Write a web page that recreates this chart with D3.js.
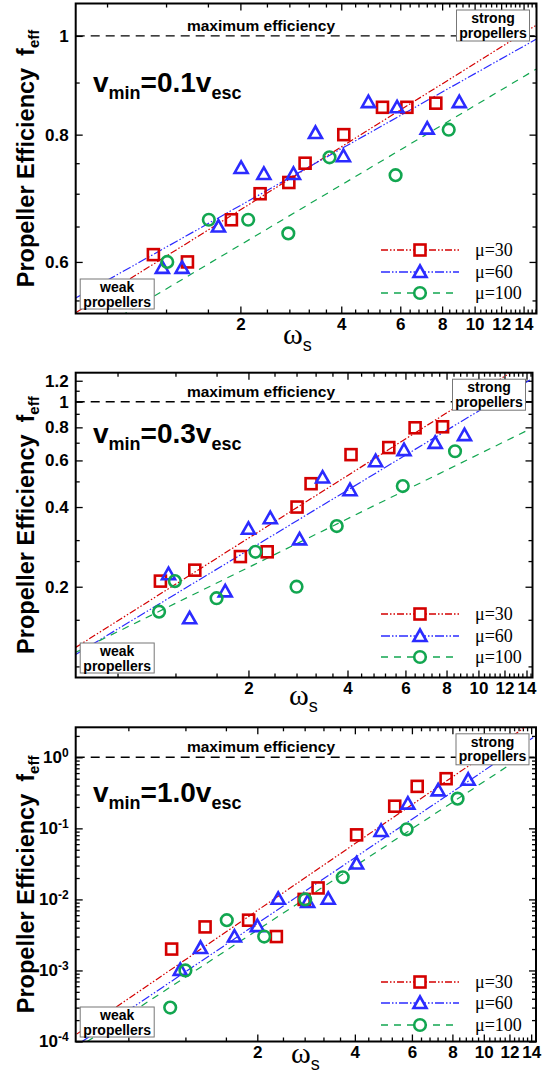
<!DOCTYPE html>
<head>
<meta charset="utf-8">
<title>Propeller efficiency</title>
<script src="https://d3js.org/d3.v7.min.js"></script>
<style>
  body { margin: 0; background: #fff; }
  svg { display: block; }
  .tick text { font-family: "Liberation Sans", Arial, sans-serif; font-weight: bold; font-size: 17px; fill: #000; }
  .tick line { stroke: #000; stroke-width: 1.3; }
  .frame { fill: none; stroke: #000; stroke-width: 2; }
  .note { font-family: "Liberation Sans", Arial, sans-serif; font-weight: bold; }
  .leg { font-family: "Liberation Serif", "Times New Roman", serif; font-size: 18px; }
</style>
</head>
<body>
<div id="container"></div>
<script>
//------------------------------DATA------------------------------//
var seriesLabels = ["\u03bc=30", "\u03bc=60", "\u03bc=100"];
var xTickValues = [2, 4, 6, 8, 10, 12, 14];

// panel 1 : vmin = 0.1 vesc
var p1_title = ["0.1"];
var p1_xDomain = [0.645, 15.3];
var p1_yDomain = [0.534, 1.076];
var p1_yTicks = [0.6, 0.8, 1];
var p1_yMinor = [0.55, 0.65, 0.7, 0.75, 0.9];
var p1_w30 = [1.10, 1.39, 1.88, 2.29, 2.79, 3.12, 4.07, 5.31, 6.28, 7.66];
var p1_f30 = [0.610, 0.600, 0.660, 0.700, 0.718, 0.750, 0.800, 0.851, 0.851, 0.859];
var p1_w60 = [1.17, 1.34, 1.72, 2.01, 2.35, 2.88, 3.35, 4.06, 4.82, 5.87, 7.22, 9.0];
var p1_f60 = [0.592, 0.592, 0.650, 0.742, 0.732, 0.732, 0.803, 0.762, 0.861, 0.851, 0.811, 0.861];
var p1_w100 = [1.21, 1.61, 2.11, 2.78, 3.69, 5.81, 8.37];
var p1_f100 = [0.600, 0.660, 0.660, 0.640, 0.760, 0.730, 0.809];
// fitted power laws, two end points each [[w, f], [w, f]]
var p1_fit30 = [[0.645, 0.535], [15.3, 1.025]];
var p1_fit60 = [[0.645, 0.553], [15.3, 0.993]];
var p1_fit100 = [[0.879, 0.531], [15.3, 0.928]];

// panel 2 : vmin = 0.3 vesc
var p2_title = ["0.3"];
var p2_xDomain = [0.597, 14.6];
var p2_yDomain = [0.0908, 1.287];
var p2_yTicks = [0.2, 0.4, 0.6, 0.8, 1, 1.2];
var p2_yMinor = [0.1, 0.15, 0.25, 0.3, 0.5, 0.7, 0.9, 1.1];
var p2_w30 = [1.08, 1.374, 1.89, 2.28, 2.81, 3.10, 4.10, 5.34, 6.42, 7.78];
var p2_f30 = [0.210, 0.231, 0.260, 0.271, 0.400, 0.490, 0.631, 0.671, 0.797, 0.804];
var p2_w60 = [1.143, 1.325, 1.70, 2.0, 2.33, 2.86, 3.36, 4.07, 4.87, 5.94, 7.39, 9.07];
var p2_f60 = [0.223, 0.152, 0.192, 0.331, 0.363, 0.302, 0.517, 0.463, 0.596, 0.656, 0.699, 0.748];
var p2_w100 = [1.07, 1.195, 1.60, 2.10, 2.80, 3.71, 5.89, 8.49];
var p2_f100 = [0.161, 0.210, 0.181, 0.271, 0.200, 0.339, 0.480, 0.650];
var p2_fit30 = [[0.597, 0.118], [12.5, 1.287]];
var p2_fit60 = [[0.597, 0.111], [14.34, 1.208]];
var p2_fit100 = [[0.597, 0.113], [14.34, 0.788]];

// panel 3 : vmin = 1.0 vesc
var p3_title = ["1.0"];
var p3_xDomain = [0.5503, 14.49];
var p3_yDomain = [1e-4, 2.645];
var p3_yTicks = [1e-4, 1e-3, 1e-2, 1e-1, 1];
var p3_yMinor = [2e-4, 3e-4, 4e-4, 5e-4, 6e-4, 7e-4, 8e-4, 9e-4,
                 2e-3, 3e-3, 4e-3, 5e-3, 6e-3, 7e-3, 8e-3, 9e-3,
                 2e-2, 3e-2, 4e-2, 5e-2, 6e-2, 7e-2, 8e-2, 9e-2,
                 0.2, 0.3, 0.4, 0.5, 0.6, 0.7, 0.8, 0.9, 2];
var p3_w30 = [1.088, 1.38, 1.88, 2.29, 2.79, 3.08, 4.05, 5.31, 6.23, 7.65];
var p3_f30 = [0.0020, 0.0041, 0.0051, 0.0030, 0.010, 0.0145, 0.081, 0.205, 0.39, 0.50];
var p3_w60 = [1.157, 1.336, 1.70, 2.0, 2.32, 2.86, 3.31, 4.05, 4.82, 5.83, 7.23, 8.95];
var p3_f60 = [0.00102, 0.00207, 0.0030, 0.0042, 0.0102, 0.0092, 0.0102, 0.032, 0.092, 0.223, 0.343, 0.483];
var p3_w100 = [1.077, 1.20, 1.61, 2.10, 2.81, 3.67, 5.78, 8.30];
var p3_f100 = [0.0003, 0.0010, 0.0051, 0.0030, 0.010, 0.0205, 0.097, 0.262];
var p3_fit30 = [[0.554, 1.27e-4], [13.36, 2.62]];
var p3_fit60 = [[0.576, 1e-4], [14.2, 1.90]];
var p3_fit100 = [[0.597, 1e-4], [14.2, 1.29]];

//----------------------------LAYOUT------------------------------//
var colors = ["#d40000", "#2b2bff", "#12a650"];
var dashes = ["7,2,1.5,2,1.5,2", "9,2,1.5,2,1.5,2", "7,6"];
var symbols = ["square", "triangle", "circle"];

var panels = [
    { id: 1, left: 75.7, right: 536.5, top: 3.5, bottom: 313.5, title: p1_title, xDomain: p1_xDomain, yDomain: p1_yDomain,
      yTicks: p1_yTicks, yMinor: p1_yMinor, power: false,
      w: [p1_w30, p1_w60, p1_w100], f: [p1_f30, p1_f60, p1_f100], fits: [p1_fit30, p1_fit60, p1_fit100],
      legY: [250, 272, 293], omegaX: 283, omegaY: 344, titleY: 92 },
    { id: 2, left: 75.7, right: 532.5, top: 372.7, bottom: 677.5, title: p2_title, xDomain: p2_xDomain, yDomain: p2_yDomain,
      yTicks: p2_yTicks, yMinor: p2_yMinor, power: false,
      w: [p2_w30, p2_w60, p2_w100], f: [p2_f30, p2_f60, p2_f100], fits: [p2_fit30, p2_fit60, p2_fit100],
      legY: [614, 636, 657], omegaX: 289, omegaY: 705, titleY: 443 },
    { id: 3, left: 75.7, right: 536, top: 727.3, bottom: 1041.5, title: p3_title, xDomain: p3_xDomain, yDomain: p3_yDomain,
      yTicks: p3_yTicks, yMinor: p3_yMinor, power: true,
      w: [p3_w30, p3_w60, p3_w100], f: [p3_f30, p3_f60, p3_f100], fits: [p3_fit30, p3_fit60, p3_fit100],
      legY: [982, 1003, 1025], omegaX: 291, omegaY: 1063, titleY: 802 }
];

var svg = d3.select("#container").append("svg").attr("width", 551).attr("height", 1077);

function marker(sel, type, color, fill) {
    var s;
    if (type === "square") {
        s = sel.append("rect").attr("x", -5.5).attr("y", -5.5).attr("width", 11).attr("height", 11);
    } else if (type === "triangle") {
        s = sel.append("path").attr("d", "M0,-6.5L6.5,5L-6.5,5Z");
    } else {
        s = sel.append("circle").attr("r", 5.8);
    }
    s.attr("fill", fill || "none").attr("stroke", color).attr("stroke-width", 2.6);
}

function labelBox(g, x0, y0, x1, y1, lines) {
    g.append("rect").attr("x", x0).attr("y", y0).attr("width", x1 - x0).attr("height", y1 - y0)
        .attr("fill", "#fff").attr("stroke", "#777").attr("stroke-width", 1);
    var t = g.append("text").attr("class", "note").attr("font-size", 14).attr("text-anchor", "middle");
    t.append("tspan").attr("x", (x0 + x1) / 2).attr("y", y0 + 13).text(lines[0]);
    t.append("tspan").attr("x", (x0 + x1) / 2).attr("y", y0 + 27.5).text(lines[1]);
}

function drawPanel(P) {
    var x = d3.scaleLog().domain(P.xDomain).range([P.left, P.right]);
    var y = d3.scaleLog().domain(P.yDomain).range([P.bottom, P.top]);
    var g = svg.append("g");

    var clipId = "clip" + P.id;
    svg.append("clipPath").attr("id", clipId).append("rect")
        .attr("x", P.left).attr("y", P.top).attr("width", P.right - P.left).attr("height", P.bottom - P.top);

    var xMinor = d3.range(2, 40).map(function (k) { return k * 0.4; })
        .filter(function (v) { return Math.abs(v / 2 - Math.round(v / 2)) > 1e-6 && v >= P.xDomain[0] && v <= P.xDomain[1]; });
    var yMinor = P.yMinor.filter(function (v) { return v >= P.yDomain[0] && v <= P.yDomain[1]; });

    //----------------------------AXES----------------------------//
    function addAxis(axis, tx, ty) {
        var a = g.append("g").attr("transform", "translate(" + tx + "," + ty + ")").call(axis);
        a.select(".domain").remove();
        return a;
    }
    addAxis(d3.axisBottom(x).tickValues(xTickValues).tickSizeInner(-7).tickSizeOuter(0).tickPadding(4)
        .tickFormat(d3.format("d")), 0, P.bottom);
    addAxis(d3.axisBottom(x).tickValues(xMinor).tickSizeInner(-4).tickSizeOuter(0).tickFormat(""), 0, P.bottom);
    addAxis(d3.axisTop(x).tickValues(xTickValues).tickSizeInner(-7).tickSizeOuter(0).tickFormat(""), 0, P.top);
    addAxis(d3.axisTop(x).tickValues(xMinor).tickSizeInner(-4).tickSizeOuter(0).tickFormat(""), 0, P.top);

    var yl = addAxis(d3.axisLeft(y).tickValues(P.yTicks).tickSizeInner(-7).tickSizeOuter(0).tickPadding(7)
        .tickFormat(P.power ? function () { return ""; } : function (d) { return String(d); }), P.left, 0);
    if (P.power) {
        yl.selectAll(".tick text").each(function (d) {
            var t = d3.select(this);
            var e = Math.round(Math.log10(d));
            t.append("tspan").text("10");
            t.append("tspan").attr("dy", "-0.5em").attr("font-size", "12px").text(e);
        });
    }
    addAxis(d3.axisLeft(y).tickValues(yMinor).tickSizeInner(-4).tickSizeOuter(0).tickFormat(""), P.left, 0);
    addAxis(d3.axisRight(y).tickValues(P.yTicks).tickSizeInner(-7).tickSizeOuter(0).tickFormat(""), P.right, 0);
    addAxis(d3.axisRight(y).tickValues(yMinor).tickSizeInner(-4).tickSizeOuter(0).tickFormat(""), P.right, 0);

    //-------------------------FIT LINES--------------------------//
    var line = d3.line().x(function (d) { return x(d[0]); }).y(function (d) { return y(d[1]); });
    var lines = g.append("g").attr("clip-path", "url(#" + clipId + ")");
    P.fits.forEach(function (fit, i) {
        lines.append("path").attr("d", line(fit)).attr("fill", "none")
            .attr("stroke", colors[i]).attr("stroke-width", 1.2).attr("stroke-dasharray", dashes[i]);
    });

    // maximum efficiency
    lines.append("line").attr("x1", P.left).attr("x2", P.right).attr("y1", y(1)).attr("y2", y(1))
        .attr("stroke", "#000").attr("stroke-width", 1.4).attr("stroke-dasharray", "9,6");
    g.append("text").attr("class", "note").attr("font-size", 15.5).attr("text-anchor", "middle")
        .attr("x", 261).attr("y", y(1) - 5).text("maximum efficiency");

    //---------------------------POINTS---------------------------//
    P.w.forEach(function (ws, i) {
        var pts = ws.map(function (w, k) { return [w, P.f[i][k]]; });
        g.append("g").selectAll("g").data(pts).enter().append("g")
            .attr("transform", function (d) { return "translate(" + x(d[0]) + "," + y(d[1]) + ")"; })
            .each(function () { marker(d3.select(this), symbols[i], colors[i]); });
    });

    //---------------------------BOXES----------------------------//
    labelBox(g, P.right - 80, P.top + 6.5, P.right - 7, P.top + 37.5, ["strong", "propellers"]);
    labelBox(g, P.left + 4.5, P.bottom - 34.5, P.left + 78.5, P.bottom - 4.5, ["weak", "propellers"]);

    //---------------------------LEGEND---------------------------//
    seriesLabels.forEach(function (lab, i) {
        var ly = P.legY[i];
        g.append("line").attr("x1", 381).attr("x2", 459).attr("y1", ly).attr("y2", ly)
            .attr("stroke", colors[i]).attr("stroke-width", 1.3).attr("stroke-dasharray", dashes[i]);
        var m = g.append("g").attr("transform", "translate(420," + ly + ")");
        marker(m, symbols[i], colors[i], "#fff");
        g.append("text").attr("class", "leg").attr("x", 475).attr("y", ly + 6).text(lab);
    });

    //---------------------------TITLES---------------------------//
    var tt = g.append("text").attr("class", "note").attr("x", 93).attr("y", P.titleY).attr("font-size", 28);
    tt.append("tspan").text("v");
    tt.append("tspan").attr("font-size", 18).attr("dy", 7).text("min");
    tt.append("tspan").attr("dy", -7).text("=" + P.title[0] + "v");
    tt.append("tspan").attr("font-size", 18).attr("dy", 7).text("esc");

    var cy = (P.top + P.bottom) / 2;
    var yt = g.append("text").attr("class", "note").attr("font-size", 23.5).attr("text-anchor", "middle")
        .attr("transform", "translate(34," + cy + ") rotate(-90)");
    yt.append("tspan").text("Propeller Efficiency");
    yt.append("tspan").attr("dx", 12).text("f");
    yt.append("tspan").attr("font-size", 15).attr("dy", 5).text("eff");

    var xt = g.append("text").attr("x", P.omegaX).attr("y", P.omegaY);
    xt.append("tspan").attr("font-family", "'Liberation Serif', serif").attr("font-size", 30).text("\u03c9");
    xt.append("tspan").attr("font-family", "'Liberation Sans', Arial, sans-serif").attr("font-size", 18)
        .attr("dy", 7).text("s");

    g.append("rect").attr("class", "frame").attr("x", P.left).attr("y", P.top)
        .attr("width", P.right - P.left).attr("height", P.bottom - P.top);
}

panels.forEach(drawPanel);
</script>
</body>
